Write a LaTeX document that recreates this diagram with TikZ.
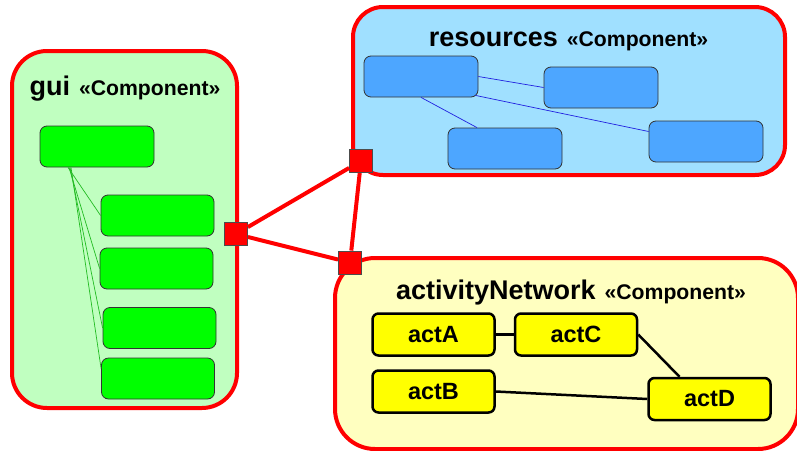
\documentclass[tikz,border=0pt]{standalone}
\usepackage{fontspec}
\setmainfont{Liberation Sans}
\definecolor{guifill}{HTML}{C0FFC0}
\definecolor{guibox}{HTML}{00FF00}
\definecolor{resfill}{HTML}{A0E0FF}
\definecolor{resbox}{HTML}{4DA6FF}
\definecolor{actfill}{HTML}{FFFFC0}
\definecolor{actbox}{HTML}{FFFF00}
\definecolor{guiline}{HTML}{22BB22}
\definecolor{resline}{HTML}{2020E0}
\tikzset{
  container/.style={draw=red, line width=4pt, rounded corners=#1, inner sep=0pt},
  title/.style={anchor=base, font=\bfseries, inner sep=0pt},
  gbox/.style={draw=black!80, line width=0.8pt, fill=guibox, rounded corners=7pt, minimum width=113pt, minimum height=41pt, inner sep=0pt},
  bbox/.style={draw=black!80, line width=0.8pt, fill=resbox, rounded corners=7pt, minimum width=114pt, minimum height=41pt, inner sep=0pt},
  abox/.style={draw=black, line width=2.5pt, fill=actbox, rounded corners=6pt, minimum width=122pt, minimum height=42pt, inner sep=0pt, font=\bfseries\fontsize{23.5}{28}\selectfont},
  port/.style={draw=black!70, line width=0.8pt, fill=red, minimum size=23pt, inner sep=0pt},
  redlink/.style={draw=red, line width=4pt},
  glink/.style={draw=guiline, line width=0.7pt},
  blink/.style={draw=resline, line width=0.7pt},
  alink/.style={draw=black, line width=2.5pt}
}
\newcommand{\bigt}[1]{{\fontsize{27}{32}\selectfont #1}}
\newcommand{\smallt}[1]{{\fontsize{21.2}{25}\selectfont #1}}
\begin{document}
\begin{tikzpicture}[x=1pt,y=-1pt]
\useasboundingbox (0,0) rectangle (797,450);
\clip (0,0) rectangle (797,450);
% containers
\node[container=35pt, fill=guifill, minimum width=225pt, minimum height=357pt] (gui) at (124.5,229.5) {};
\node[container=30pt, fill=resfill, minimum width=432pt, minimum height=168pt] (res) at (569,91) {};
\node[container=40pt, fill=actfill, minimum width=463pt, minimum height=191pt] (act) at (566.5,353.5) {};
% titles
\node[title] (guititle) at (125,95) {\bigt{gui}\hspace{9pt}\smallt{«Component»}};
\node[title] (restitle) at (568.5,46) {\bigt{resources}\hspace{9pt}\smallt{«Component»}};
\node[title] (acttitle) at (571,299) {\bigt{activityNetwork}\hspace{9pt}\smallt{«Component»}};
% gui boxes
\node[gbox, minimum width=114pt] (g0) at (97,146.5) {};
\node[gbox] (g1) at (157.5,215.5) {};
\node[gbox] (g2) at (156.5,268.5) {};
\node[gbox] (g3) at (159.5,328) {};
\node[gbox] (g4) at (158,378.5) {};
\draw[glink] ([xshift=-29pt]g0.south) -- (g1.west);
\draw[glink] ([xshift=-28pt]g0.south) -- (g2.west);
\draw[glink] ([xshift=-27pt]g0.south) -- (g3.west);
\draw[glink] ([xshift=-26pt]g0.south) -- ([yshift=10pt]g4.west);
% resources boxes
\node[bbox] (b1) at (421,76.5) {};
\node[bbox] (b2) at (601,87.5) {};
\node[bbox] (b3) at (505,148.5) {};
\node[bbox] (b4) at (706,141.5) {};
\draw[blink] (b1.east) -- (b2.west);
\draw[blink] ([xshift=-3pt,yshift=2pt]b1.south east) -- ([yshift=10pt]b4.west);
\draw[blink] (b1.south) -- ([xshift=-28pt]b3.north);
% activity boxes
\node[abox] (actA) at (433.5,334.5) {actA};
\node[abox] (actC) at (576,334.5) {actC};
\node[abox] (actB) at (433.5,391.5) {actB};
\node[abox] (actD) at (709.5,399) {actD};
\draw[alink] (actA.east) -- (actC.west);
\draw[alink] (actC.east) -- ([xshift=-30pt]actD.north);
\draw[alink] (actB.east) -- (actD.west);
% ports
\node[port] (p1) at (236,234) {};
\node[port] (p2) at (361,161) {};
\node[port] (p3) at (350,262.5) {};
\draw[redlink] (p1) -- (p2);
\draw[redlink] (p1) -- (p3);
\draw[redlink] (p2) -- (p3);
\end{tikzpicture}
\end{document}
